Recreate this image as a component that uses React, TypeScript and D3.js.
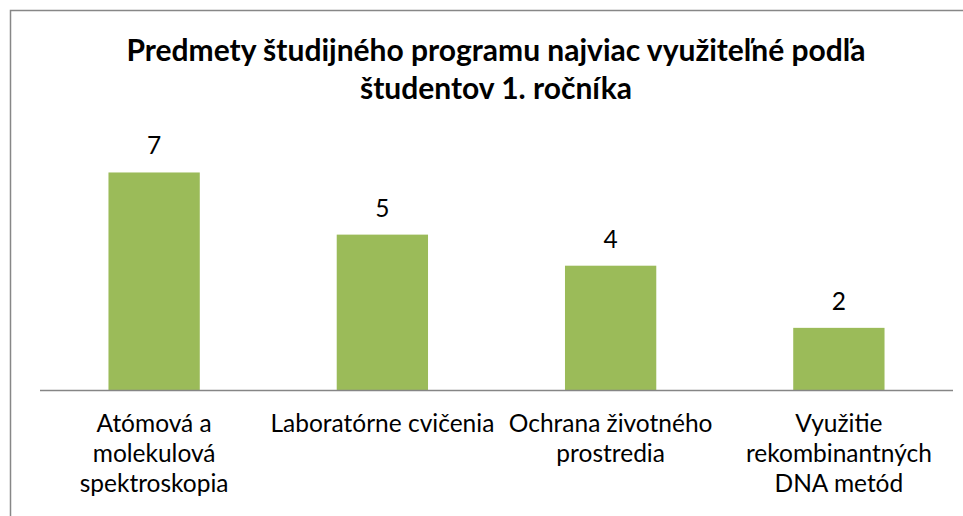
import React from 'react';
import * as d3 from 'd3';

const categories = [
  ['Atómová a', 'molekulová', 'spektroskopia'],
  ['Laboratórne cvičenia'],
  ['Ochrana životného', 'prostredia'],
  ['Využitie', 'rekombinantných', 'DNA metód'],
];
const values = [7, 5, 4, 2];
const titleLines = [
  'Predmety študijného programu najviac využiteľné podľa',
  'študentov 1. ročníka',
];

const width = 963;
const height = 516;
const font = 'Lato, "Open Sans", sans-serif';

const App = () => {
  const x = d3
    .scaleBand<number>()
    .domain(values.map((_, i) => i))
    .range([40, 953])
    .paddingInner(0.6)
    .paddingOuter(0.3);
  const y = d3.scaleLinear().domain([0, 8]).range([390, 141.4]);

  const cx = (i: number) => (x(i) as number) + x.bandwidth() / 2;

  return (
    <svg
      width={width}
      height={height}
      style={{ position: 'absolute', left: 0, top: 0, background: '#fff' }}
    >
      <rect x={10.5} y={10.5} width={980} height={540} fill="#fff" stroke="#878787" strokeWidth={1.5} />

      {/* title */}
      <text textAnchor="middle" fontFamily={font} fontWeight="bold" fontSize={30} fill="#000">
        {titleLines.map((t, i) => (
          <tspan key={i} x={496} y={61 + i * 38}>
            {t}
          </tspan>
        ))}
      </text>

      {/* bars */}
      {values.map((v, i) => (
        <rect
          key={i}
          x={x(i)}
          y={y(v)}
          width={x.bandwidth()}
          height={y(0) - y(v)}
          fill="#9BBB59"
        />
      ))}

      {/* value labels */}
      {values.map((v, i) => (
        <text
          key={i}
          x={cx(i)}
          y={y(v) - 18}
          textAnchor="middle"
          fontFamily={font}
          fontSize={24.5}
          fill="#000"
        >
          {v}
        </text>
      ))}

      {/* baseline */}
      <line x1={40} x2={953} y1={y(0) + 0.5} y2={y(0) + 0.5} stroke="#868686" strokeWidth={1.5} />

      {/* category labels */}
      {categories.map((lines, i) => (
        <text key={i} textAnchor="middle" fontFamily={font} fontSize={24.5} fill="#000">
          {lines.map((t, j) => (
            <tspan key={j} x={cx(i)} y={432 + j * 30}>
              {t}
            </tspan>
          ))}
        </text>
      ))}
    </svg>
  );
};

export default App;
